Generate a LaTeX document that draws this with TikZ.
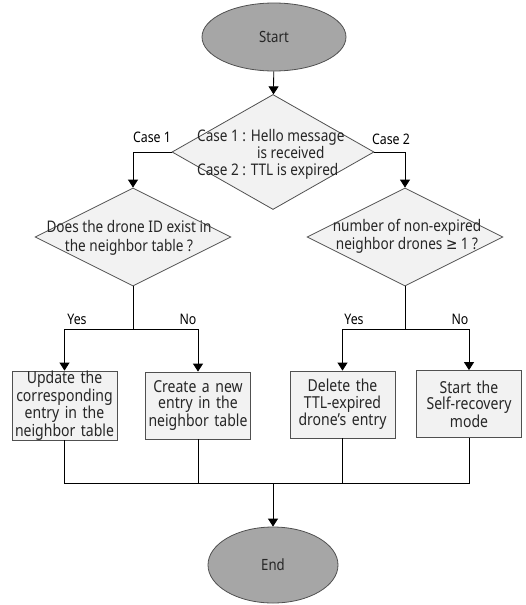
\documentclass[tikz,border=0pt]{standalone}
\usepackage{fontspec}
\setmainfont[FakeStretch=0.85]{Noto Sans}
\newfontfamily\symfont[FakeStretch=0.85]{DejaVu Sans}
\usepackage{tikz,xcolor}
\usetikzlibrary{shapes.geometric, arrows.meta}

\definecolor{termgray}{HTML}{A6A6A6}
\definecolor{boxfill}{HTML}{F2F2F2}
\definecolor{edgegray}{HTML}{505050}

\tikzset{
  terminal/.style={ellipse, draw=edgegray, fill=termgray, line width=0.8pt, inner sep=0pt,
    font=\fontsize{15.5}{18}\selectfont, text=black!85},
  decision/.style={diamond, draw=edgegray, fill=boxfill, line width=0.8pt, inner sep=0pt},
  process/.style={rectangle, draw=edgegray, fill=boxfill, line width=0.8pt, inner sep=0pt,
    minimum width=105pt, minimum height=67pt, text width=104pt, align=center,
    font=\fontsize{16.5}{16.3}\selectfont, text=black!85},
  txt/.style={inner sep=0pt, text=black!85},
  lbl/.style={inner sep=0pt, font=\fontsize{14.5}{16}\selectfont},
  flow/.style={-{Triangle[width=10pt,length=8pt]}, line width=0.8pt},
  line/.style={line width=0.8pt}
}

\begin{document}
\begin{tikzpicture}[x=1pt, y=-1pt]

        \useasboundingbox (0,0) rectangle (525,605);

        % Terminals
        \node[terminal, minimum width=144pt, minimum height=68pt] (start) at (274, 37) {Start};
        \node[terminal, minimum width=130pt, minimum height=76pt] (end) at (273, 565) {End};

        % Main decision
        \node[decision, minimum width=202pt, minimum height=115pt] (event) at (273, 152) {};
        \node[txt, anchor=west, align=left, font=\fontsize{16}{17}\selectfont]
              (eventtxt) at (197, 154)
              {Case 1 : Hello message\\\hspace*{60pt}is received\\Case 2 : TTL is expired};

        % Left and right decisions
        \node[decision, minimum width=196pt, minimum height=98pt] (exist) at (133, 237) {};
        \node[txt, align=center, font=\fontsize{16}{19.5}\selectfont]
              (existtxt) at (129, 238) {Does the drone ID exist in\\the neighbor table ?};
        \node[decision, minimum width=196pt, minimum height=98pt] (alive) at (405, 237) {};
        \node[txt, align=center, font=\fontsize{16}{18}\selectfont]
              (alivetxt) at (407, 236) {number of non-expired\\neighbor drones {\symfont ≥} 1 ?};

        % Processes
        \node[process] (upd) at (64.5, 405.5) {Update the\\corresponding\\entry in the\\neighbor table};
        \node[process] (crt) at (198, 405.5) {Create a new\\entry in the\\neighbor table};
        \node[process] (del) at (342.5, 404.5) {Delete the\\TTL-expired\\drone’s entry};
        \node[process] (rec) at (469, 404) {Start the\\Self-recovery\\mode};

        % Branch points
        \coordinate (lsplit) at (133, 329);
        \coordinate (rsplit) at (405, 329);
        \coordinate (merge) at (273, 483);

        % Start to main decision
        \draw[flow] (start) -- (event);

        % Case branches
        \draw[flow] (event.west) -| (exist.north);
        \draw[flow] (event.east) -| (alive.north);
        \node[lbl] (case1) at (152, 137) {Case 1};
        \node[lbl] (case2) at (391, 139) {Case 2};

        % Yes / No on the left
        \draw[line] (exist.south) -- (lsplit);
        \draw[flow] (lsplit) -| (upd.north);
        \draw[flow] (lsplit) -| (crt.north);
        \node[lbl] (yes1) at (77, 319) {Yes};
        \node[lbl] (no1) at (188, 319) {No};

        % Yes / No on the right
        \draw[line] (alive.south) -- (rsplit);
        \draw[flow] (rsplit) -| (del.north);
        \draw[flow] (rsplit) -| (rec.north);
        \node[lbl] (yes2) at (354, 319) {Yes};
        \node[lbl] (no2) at (460, 319) {No};

        % Merge into End
        \draw[line] (upd.south) |- (merge);
        \draw[line] (rec.south) |- (merge);
        \draw[line] (crt.south) -- (crt.south |- merge);
        \draw[line] (del.south) -- (del.south |- merge);
        \draw[flow] (merge) -- (end.north);

    \end{tikzpicture}
\end{document}
